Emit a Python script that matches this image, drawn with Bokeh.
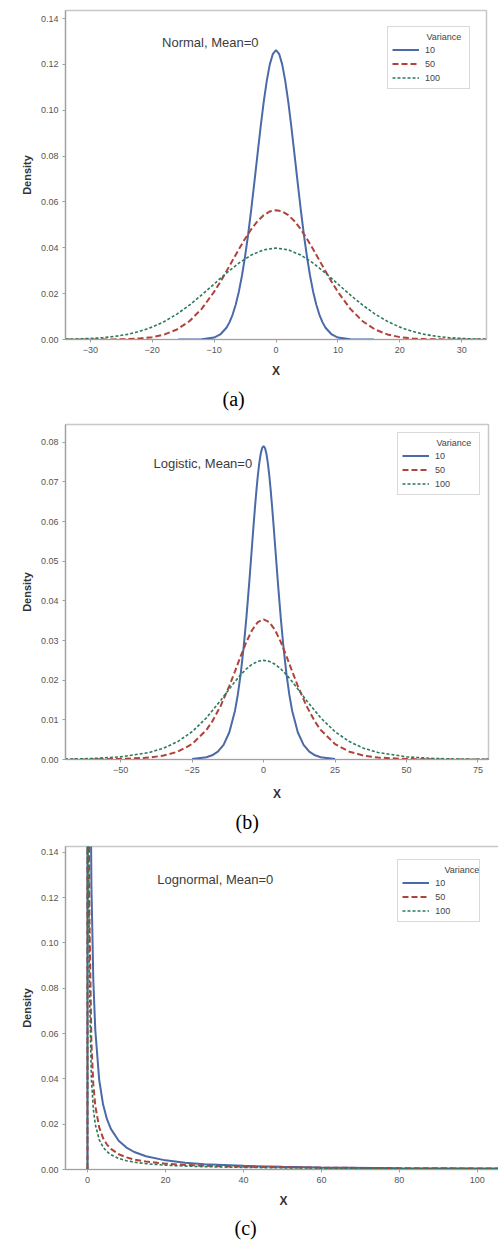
from bokeh.plotting import figure
from bokeh.models import Range1d, FixedTicker, Title, Label, NumeralTickFormatter
from bokeh.layouts import column
from bokeh.embed import file_html
from bokeh.resources import INLINE

VARIANCES = ["10", "50", "100"]
COLORS = ["#4a6aa8", "#b0433a", "#2b7a5c"]
DASHES = ["solid", "6 3", "3 2"]
WIDTHS = [2.0, 2.0, 1.6]

# ---------------- (a) Normal, Mean=0 ----------------
NORM_X_10 = [-15.8, -14, -12, -10, -9, -8, -7.5, -7, -6.5, -6, -5.5, -5, -4.5, -4, -3.5, -3, -2.5, -2, -1.5, -1, -0.5,
             0, 0.5, 1, 1.5, 2, 2.5, 3, 3.5, 4, 4.5, 5, 5.5, 6, 6.5, 7, 7.5, 8, 9, 10, 12, 14, 15.8]
NORM_Y_10 = [0.0000005, 0.0000070, 0.000094, 0.00085, 0.00220, 0.00514, 0.00758, 0.01089, 0.01525, 0.02086, 0.0278,
             0.03615, 0.0458, 0.0567, 0.0684, 0.0804, 0.0923, 0.1033, 0.1127, 0.1200, 0.1246,
             0.1262, 0.1246, 0.1200, 0.1127, 0.1033, 0.0923, 0.0804, 0.0684, 0.0567, 0.0458, 0.03615, 0.0278,
             0.02086, 0.01525, 0.01089, 0.00758, 0.00514, 0.00220, 0.00085, 0.000094, 0.0000070, 0.0000005]
NORM_X_50 = [-34, -30, -28, -26, -24, -22, -20, -18, -16, -14, -12, -10, -9, -8, -7, -6, -5, -4, -3, -2, -1,
             0, 1, 2, 3, 4, 5, 6, 7, 8, 9, 10, 12, 14, 16, 18, 20, 22, 24, 26, 28, 30, 34]
NORM_Y_50 = [0.0000005, 0.0000070, 0.0000222, 0.0000654, 0.000178, 0.000446, 0.00103, 0.00221, 0.00436, 0.00795,
             0.01337, 0.02076, 0.0251, 0.02975, 0.03456, 0.03936, 0.04394, 0.04808, 0.05156, 0.05421, 0.05586,
             0.05642, 0.05586, 0.05421, 0.05156, 0.04808, 0.04394, 0.03936, 0.03456, 0.02975, 0.0251, 0.02076,
             0.01337, 0.00795, 0.00436, 0.00221, 0.00103, 0.000446, 0.000178, 0.0000654, 0.0000222, 0.0000070,
             0.0000005]
NORM_X_100 = [-34, -32, -30, -28, -26, -24, -22, -20, -18, -16, -14, -12, -10, -8, -6, -4, -2,
              0, 2, 4, 6, 8, 10, 12, 14, 16, 18, 20, 22, 24, 26, 28, 30, 32, 34]
NORM_Y_100 = [0.000123, 0.000238, 0.000443, 0.00079, 0.00136, 0.00224, 0.00355, 0.0054, 0.00789, 0.01109, 0.01497,
              0.01942, 0.0242, 0.02897, 0.03332, 0.03683, 0.0391,
              0.03989, 0.0391, 0.03683, 0.03332, 0.02897, 0.0242, 0.01942, 0.01497, 0.01109, 0.00789, 0.0054,
              0.00355, 0.00224, 0.00136, 0.00079, 0.000443, 0.000238, 0.000123]

# ---------------- (b) Logistic, Mean=0 ----------------
LOGI_X_10 = [-25, -20, -18, -16, -14, -12, -10, -9, -8, -7, -6, -5, -4, -3.5, -3, -2.5, -2, -1.5, -1, -0.5,
             0, 0.5, 1, 1.5, 2, 2.5, 3, 3.5, 4, 5, 6, 7, 8, 9, 10, 12, 14, 16, 18, 20, 25]
LOGI_Y_10 = [0.000117, 0.000566, 0.00106, 0.00198, 0.00369, 0.0068, 0.01232, 0.0164, 0.02161, 0.02809, 0.03585,
             0.04475, 0.05429, 0.05905, 0.06364, 0.06788, 0.07165, 0.07477, 0.07712, 0.07857,
             0.07906, 0.07857, 0.07712, 0.07477, 0.07165, 0.06788, 0.06364, 0.05905, 0.05429, 0.04475, 0.03585,
             0.02809, 0.02161, 0.0164, 0.01232, 0.0068, 0.00369, 0.00198, 0.00106, 0.000566, 0.000117]
LOGI_X_50 = [-80, -70, -60, -50, -40, -35, -30, -25, -20, -18, -15, -12, -10, -8, -6, -4, -2,
             0, 2, 4, 6, 8, 10, 12, 15, 18, 20, 25, 30, 35, 40, 50, 60, 70, 80]
LOGI_Y_50 = [0.0000017, 0.0000071, 0.0000293, 0.00012, 0.000491, 0.000988, 0.001975, 0.00389, 0.00745, 0.00954,
             0.01352, 0.01851, 0.02225, 0.02608, 0.02968, 0.03267, 0.03466,
             0.035355, 0.03466, 0.03267, 0.02968, 0.02608, 0.02225, 0.01851, 0.01352, 0.00954, 0.00745, 0.00389,
             0.001975, 0.000988, 0.000491, 0.00012, 0.0000293, 0.0000071, 0.0000017]
LOGI_X_100 = [-80, -70, -60, -50, -40, -35, -30, -25, -20, -15, -12, -10, -8, -6, -4, -2,
              0, 2, 4, 6, 8, 10, 12, 15, 20, 25, 30, 35, 40, 50, 60, 70, 80]
LOGI_Y_100 = [0.0000335, 0.000091, 0.000247, 0.000665, 0.00177, 0.00285, 0.00452, 0.00701, 0.0105, 0.01491,
              0.01779, 0.01966, 0.02139, 0.02288, 0.02403, 0.02475,
              0.025, 0.02475, 0.02403, 0.02288, 0.02139, 0.01966, 0.01779, 0.01491, 0.0105, 0.00701, 0.00452,
              0.00285, 0.00177, 0.000665, 0.000247, 0.000091, 0.0000335]

# ---------------- (c) Lognormal, Mean=0 ----------------
LOGN_X = [0, 0.01, 0.1, 0.25, 0.5, 1, 1.5, 2, 3, 4, 5, 6, 8, 10, 12, 15, 20, 25, 30, 40, 50, 60, 80, 100, 110]
LOGN_Y_10 = [0, 4.37, 0.968, 0.458, 0.2463, 0.1262, 0.0834, 0.0616, 0.0396, 0.02865, 0.02217, 0.01791, 0.0127,
             0.00968, 0.00772, 0.00583, 0.00403, 0.00301, 0.00236, 0.0016, 0.00117, 0.00091, 0.0006, 0.00044,
             0.00038]
LOGN_Y_50 = [0, 4.56, 0.535, 0.2214, 0.1123, 0.0564, 0.03755, 0.02808, 0.01858, 0.01384, 0.011, 0.00911, 0.00675,
             0.00535, 0.00442, 0.0035, 0.00258, 0.00203, 0.00168, 0.00123, 0.00097, 0.0008, 0.00058, 0.00046,
             0.00041]
LOGN_Y_100 = [0, 3.59, 0.3885, 0.158, 0.0796, 0.0399, 0.02657, 0.0199, 0.01322, 0.00988, 0.00788, 0.00654,
              0.00488, 0.00389, 0.00322, 0.00256, 0.00191, 0.00152, 0.00125, 0.00093, 0.00074, 0.00061, 0.00045,
              0.00036, 0.00032]

X_TICKS_A = [-30, -20, -10, 0, 10, 20, 30]
Y_TICKS_A = [0.0, 0.02, 0.04, 0.06, 0.08, 0.10, 0.12, 0.14]
X_TICKS_B = [-50, -25, 0, 25, 50, 75]
Y_TICKS_B = [0.0, 0.01, 0.02, 0.03, 0.04, 0.05, 0.06, 0.07, 0.08]
X_TICKS_C = [0, 20, 40, 60, 80, 100]
Y_TICKS_C = [0.0, 0.02, 0.04, 0.06, 0.08, 0.10, 0.12, 0.14]

SANS = "Liberation Sans"
SERIF = "Liberation Serif"


def make_panel(series, xr, yr, fw, fh, bl, br, bt, bb, xticks, yticks, note, note_x, note_y,
               caption, cap_offset, cap_standoff, leg_margin, x_als):
    p = figure(frame_width=fw, frame_height=fh, x_range=Range1d(*xr), y_range=Range1d(*yr),
               output_backend="svg", toolbar_location=None,
               min_border_left=bl, min_border_right=br, min_border_top=bt, min_border_bottom=bb,
               background_fill_color="white", border_fill_color="white")
    p.grid.visible = False
    p.outline_line_color = "#c8c8c8"
    p.outline_line_width = 1.5
    for ax in (p.xaxis[0], p.yaxis[0]):
        ax.axis_line_color = "#a0a0a0"
        ax.axis_line_width = 1.2
        ax.major_tick_line_color = "#a0a0a0"
        ax.major_tick_out = 3
        ax.major_tick_in = 0
        ax.minor_tick_out = 0
        ax.minor_tick_in = 0
        ax.major_label_text_font = SANS
        ax.major_label_text_font_size = "9px"
        ax.major_label_text_color = "#555555"
        ax.major_label_standoff = 4
        ax.axis_label_text_font = SANS
        ax.axis_label_text_font_style = "bold"
        ax.axis_label_text_color = "#333333"
    p.xaxis.ticker = FixedTicker(ticks=xticks)
    p.yaxis.ticker = FixedTicker(ticks=yticks)
    p.yaxis.formatter = NumeralTickFormatter(format="0.00")
    p.xaxis.axis_label = "X"
    p.xaxis.axis_label_text_font_size = "12px"
    p.xaxis.axis_label_standoff = x_als
    p.yaxis.axis_label = "Density"
    p.yaxis.axis_label_text_font_size = "11px"
    p.yaxis.axis_label_standoff = 5

    for (xs, ys), lab, col, dash, w in zip(series, VARIANCES, COLORS, DASHES, WIDTHS):
        p.line(xs, ys, line_color=col, line_dash=dash, line_width=w, legend_label=lab)

    pad, lw = 4, 40
    leg = p.legend[0]
    leg.location = "top_right"
    leg.margin = leg_margin
    leg.padding = pad
    leg.spacing = 1
    leg.label_height = 13
    leg.glyph_height = 13
    leg.glyph_width = 27
    leg.label_standoff = 6
    leg.label_width = lw
    leg.label_text_font = SANS
    leg.label_text_font_size = "9px"
    leg.label_text_color = "#444444"
    leg.title = " "
    leg.title_text_font_size = "9px"
    leg.title_standoff = 2
    leg.border_line_color = "#b4b4b4"
    leg.background_fill_alpha = 0.0

    # "Variance" heading, aligned with the legend labels
    x_rel = fw - leg_margin - pad - lw
    y_top = leg_margin + pad + 6
    vx = xr[0] + x_rel * (xr[1] - xr[0]) / fw
    vy = yr[1] - y_top * (yr[1] - yr[0]) / fh
    p.add_layout(Label(x=vx, y=vy, text="Variance", text_font=SANS, text_font_size="9px",
                       text_color="#444444", text_baseline="middle", text_align="left"))

    p.add_layout(Label(x=note_x, y=note_y, text=note, text_font=SANS, text_font_size="13px",
                       text_color="#3c3c3c", text_baseline="middle", text_align="left"))

    t = Title(text=caption, align="left", offset=cap_offset, text_font=SERIF, text_font_size="20px",
              text_font_style="normal", text_color="black", standoff=cap_standoff)
    p.add_layout(t, "below")
    return p


pa = make_panel([(NORM_X_10, NORM_Y_10), (NORM_X_50, NORM_Y_50), (NORM_X_100, NORM_Y_100)],
                (-34, 34), (0, 0.1435), 421, 329, 63, 14, 10, 79, X_TICKS_A, Y_TICKS_A,
                "Normal, Mean=0", -18.4, 0.1295, "(a)", 157, 10, 16, 8)
pb = make_panel([(LOGI_X_10, LOGI_Y_10), (LOGI_X_50, LOGI_Y_50), (LOGI_X_100, LOGI_Y_100)],
                (-69.3, 78.7), (0, 0.0845), 423, 335, 65, 10, 6, 79, X_TICKS_B, Y_TICKS_B,
                "Logistic, Mean=0", -38.5, 0.0747, "(b)", 170, 10, 8, 11)
pc = make_panel([(LOGN_X, LOGN_Y_10), (LOGN_X, LOGN_Y_50), (LOGN_X, LOGN_Y_100)],
                (-5.64, 106.2), (0, 0.1425), 436, 323, 61, 1, 8, 76, X_TICKS_C, Y_TICKS_C,
                "Lognormal, Mean=0", 17.9, 0.128, "(c)", 169, 8, 13, 8)

layout = column(pa, pb, pc, spacing=0)
open("out.html", "w").write(file_html(layout, INLINE))
